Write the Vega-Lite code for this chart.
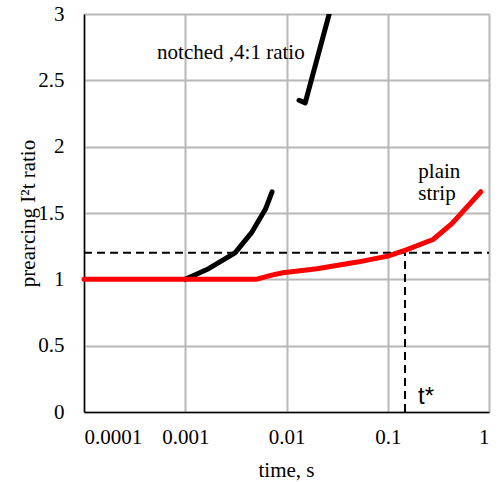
{
  "$schema": "https://vega.github.io/schema/vega-lite/v6.json",
  "width": 405,
  "height": 398,
  "autosize": {"type": "none"},
  "padding": {"left": 84, "top": 14, "right": 12, "bottom": 70},
  "background": "white",
  "config": {
    "view": {"stroke": null},
    "axis": {
      "labelFont": "Liberation Serif",
      "titleFont": "Liberation Serif",
      "labelFontSize": 21,
      "titleFontSize": 21,
      "labelColor": "black",
      "titleColor": "black",
      "titleFontWeight": "normal",
      "tickSize": 0,
      "domainColor": "black",
      "domainWidth": 1.5
    }
  },
  "datasets": {
    "curves": [
      {"t": 0.0001, "r": 1.0, "s": "plain"},
      {"t": 0.001, "r": 1.0, "s": "plain"},
      {"t": 0.005, "r": 1.0, "s": "plain"},
      {"t": 0.007, "r": 1.03, "s": "plain"},
      {"t": 0.0092, "r": 1.05, "s": "plain"},
      {"t": 0.02, "r": 1.08, "s": "plain"},
      {"t": 0.05, "r": 1.13, "s": "plain"},
      {"t": 0.1, "r": 1.175, "s": "plain"},
      {"t": 0.15, "r": 1.22, "s": "plain"},
      {"t": 0.28, "r": 1.3, "s": "plain"},
      {"t": 0.43, "r": 1.42, "s": "plain"},
      {"t": 0.83, "r": 1.66, "s": "plain"},
      {"t": 0.001, "r": 1.0, "s": "notched"},
      {"t": 0.0017, "r": 1.08, "s": "notched"},
      {"t": 0.0031, "r": 1.2, "s": "notched"},
      {"t": 0.0045, "r": 1.35, "s": "notched"},
      {"t": 0.0062, "r": 1.53, "s": "notched"},
      {"t": 0.0072, "r": 1.66, "s": "notched"},
      {"t": 0.0133, "r": 2.35, "s": "notched4"},
      {"t": 0.0153, "r": 2.33, "s": "notched4"},
      {"t": 0.0264, "r": 3.0, "s": "notched4"},
      {"t": 0.035, "r": 3.4, "s": "notched4"},
      {"t": 0.0001, "r": 1.2, "s": "hdash"},
      {"t": 1.0, "r": 1.2, "s": "hdash"},
      {"t": 0.148, "r": 0.0, "s": "vdash"},
      {"t": 0.148, "r": 1.2, "s": "vdash"}
    ],
    "labels": [
      {"t": 0.000527, "r": 2.664, "txt": "notched ,4:1 ratio", "f": "serif"},
      {"t": 0.2004, "r": 1.767, "txt": "plain", "f": "serif"},
      {"t": 0.2004, "r": 1.598, "txt": "strip", "f": "serif"},
      {"t": 0.199, "r": 0.057, "txt": "t*", "f": "sans"}
    ]
  },
  "encoding": {
    "x": {
      "field": "t", "type": "quantitative",
      "scale": {"type": "log", "domain": [0.0001, 1], "nice": false},
      "axis": {"grid": true, "gridColor": "#b8b8b8", "gridWidth": 2, "gridOpacity": 1, "zindex": 0, "values": [0.0001, 0.001, 0.01, 0.1, 1], "format": "~g", "title": "time, s", "labelPadding": 14, "titleX": 202, "titleY": 64, "titleBaseline": "alphabetic", "titleAlign": "center"}
    },
    "y": {
      "field": "r", "type": "quantitative",
      "scale": {"domain": [0, 3], "nice": false},
      "axis": {"grid": true, "gridColor": "#b8b8b8", "gridWidth": 2, "gridOpacity": 1, "zindex": 0, "values": [0, 0.5, 1, 1.5, 2, 2.5, 3], "format": "~g", "title": "prearcing I²t ratio", "labelPadding": 20, "titleX": -50, "titleY": 199, "titleBaseline": "alphabetic", "titleAlign": "center", "titleAngle": 270}
    }
  },
  "layer": [
    {
      "data": {"name": "curves"},
      "transform": [{"filter": "datum.s == 'hdash' || datum.s == 'vdash'"}],
      "mark": {"type": "line", "color": "black", "strokeWidth": 2, "strokeDash": [8, 5]},
      "encoding": {"detail": {"field": "s"}}
    },
    {
      "data": {"name": "curves"},
      "transform": [{"filter": "datum.s == 'notched' || datum.s == 'notched4'"}],
      "mark": {"type": "line", "color": "black", "strokeWidth": 5, "clip": true, "strokeCap": "round", "strokeJoin": "round"},
      "encoding": {"detail": {"field": "s"}}
    },
    {
      "data": {"name": "curves"},
      "transform": [{"filter": "datum.s == 'plain'"}],
      "mark": {"type": "line", "color": "#ff0000", "strokeWidth": 5, "strokeCap": "round", "strokeJoin": "round"},
      "encoding": {}
    },
    {
      "data": {"name": "labels"},
      "transform": [{"filter": "datum.f == 'serif'"}],
      "mark": {"type": "text", "font": "Liberation Serif", "fontSize": 21, "align": "left", "baseline": "alphabetic", "color": "black"},
      "encoding": {"text": {"field": "txt"}}
    },
    {
      "data": {"name": "labels"},
      "transform": [{"filter": "datum.f == 'sans'"}],
      "mark": {"type": "text", "font": "Liberation Sans", "fontSize": 24, "align": "left", "baseline": "alphabetic", "color": "black"},
      "encoding": {"text": {"field": "txt"}}
    }
  ]
}
